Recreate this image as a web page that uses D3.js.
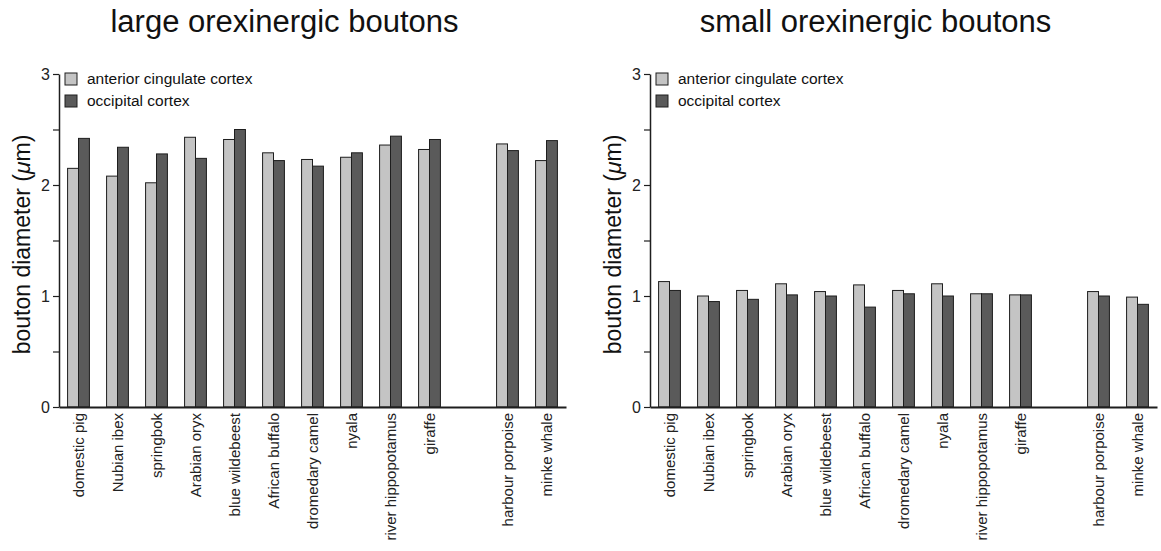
<!DOCTYPE html>
<html>
<head>
<meta charset="utf-8">
<script src="https://cdn.jsdelivr.net/npm/d3@7/dist/d3.min.js"></script>
<style>
  html, body { margin: 0; padding: 0; background: #fff; }
  svg { display: block; font-family: "Liberation Sans", Arial, Helvetica, sans-serif; }
</style>
</head>
<body>
<svg id="chart" width="1161" height="551"></svg>
<script>
// Species, in plotting order (terrestrial species first, then cetaceans)
const terrestrial = ["domestic pig", "Nubian ibex", "springbok", "Arabian oryx", "blue wildebeest",
  "African buffalo", "dromedary camel", "nyala", "river hippopotamus", "giraffe"];
const cetaceans = ["harbour porpoise", "minke whale"];
const species = terrestrial.concat(cetaceans);

// Mean bouton diameters (µm)
const largeACC = [2.15, 2.08, 2.02, 2.43, 2.41, 2.29, 2.23, 2.25, 2.36, 2.32, 2.37, 2.22];
const largeOC  = [2.42, 2.34, 2.28, 2.24, 2.50, 2.22, 2.17, 2.29, 2.44, 2.41, 2.31, 2.40];
const smallACC = [1.13, 1.00, 1.05, 1.11, 1.04, 1.10, 1.05, 1.11, 1.02, 1.01, 1.04, 0.99];
const smallOC  = [1.05, 0.95, 0.97, 1.01, 1.00, 0.90, 1.02, 1.00, 1.02, 1.01, 1.00, 0.925];

const seriesNames = ["anterior cingulate cortex", "occipital cortex"];
const seriesColors = ["#c4c4c4", "#5a5a5a"];
const yTicks = [0, 0.5, 1, 1.5, 2, 2.5, 3];

const panels = [
  { title: "large orexinergic boutons", acc: largeACC, oc: largeOC, left: 59 },
  { title: "small orexinergic boutons", acc: smallACC, oc: smallOC, left: 650 }
];

const svg = d3.select("#chart");
const plotW = 507, plotTop = 74, plotBottom = 407;

// an empty slot separates the cetaceans from the terrestrial species
const slots = terrestrial.concat(["(gap)"], cetaceans);

const y = d3.scaleLinear().domain([0, 3]).range([plotBottom, plotTop]);

panels.forEach(p => {
  const g = svg.append("g");
  const x = d3.scaleBand().domain(slots).range([p.left, p.left + plotW])
    .paddingInner(0.44).paddingOuter(0.22);
  const xs = d3.scaleBand().domain([0, 1]).range([0, x.bandwidth()]);

  // title
  g.append("text")
    .attr("x", p.left + plotW / 2 - 28).attr("y", 32)
    .attr("text-anchor", "middle")
    .attr("font-size", 31).attr("fill", "#111")
    .text(p.title);

  // bars
  const rows = species.map((s, i) => ({ s, vals: [p.acc[i], p.oc[i]] }));
  const grp = g.selectAll("g.sp").data(rows).join("g")
    .attr("class", "sp")
    .attr("transform", d => `translate(${x(d.s)},0)`);
  grp.selectAll("rect").data(d => d.vals.map((v, k) => ({ v, k }))).join("rect")
    .attr("x", d => xs(d.k))
    .attr("y", d => y(d.v))
    .attr("width", xs.bandwidth())
    .attr("height", d => y(0) - y(d.v))
    .attr("fill", d => seriesColors[d.k])
    .attr("stroke", "#1e1e1e").attr("stroke-width", 1);

  // y axis
  const ya = g.append("g").attr("transform", `translate(${p.left},0)`)
    .call(d3.axisLeft(y).tickValues(yTicks)
      .tickFormat(d => Number.isInteger(d) ? d : "")
      .tickSize(6).tickSizeOuter(0).tickPadding(3));
  ya.select(".domain").attr("stroke", "#1e1e1e").attr("stroke-width", 1.5);
  ya.selectAll(".tick line").attr("stroke", "#1e1e1e").attr("stroke-width", 1.2);
  ya.selectAll(".tick text").attr("font-size", 16).attr("fill", "#222")
    .attr("font-family", "Liberation Sans, Arial, sans-serif");

  // x axis
  const xa = g.append("g").attr("transform", `translate(0,${plotBottom})`)
    .call(d3.axisBottom(x).tickValues(species).tickSize(0).tickSizeOuter(0));
  xa.select(".domain").attr("stroke", "#1e1e1e").attr("stroke-width", 2);
  xa.selectAll(".tick text")
    .attr("font-size", 15).attr("fill", "#222")
    .attr("font-family", "Liberation Sans, Arial, sans-serif")
    .attr("text-anchor", "end")
    .attr("transform", "rotate(-90)")
    .attr("x", -6).attr("y", 0).attr("dy", "0.35em");

  // y axis title
  const yt = g.append("text")
    .attr("transform", `translate(${p.left - 29},${(plotTop + plotBottom) / 2 + 4}) rotate(-90)`)
    .attr("text-anchor", "middle")
    .attr("font-size", 23).attr("fill", "#111");
  yt.append("tspan").text("bouton diameter (");
  yt.append("tspan").attr("font-style", "italic").text("\u03bc");
  yt.append("tspan").text("m)");

  // legend
  const lg = g.append("g").attr("transform", `translate(${p.left + 6},73)`);
  seriesNames.forEach((name, k) => {
    lg.append("rect").attr("x", 0).attr("y", k * 22)
      .attr("width", 12).attr("height", 12)
      .attr("fill", seriesColors[k]).attr("stroke", "#1e1e1e").attr("stroke-width", 1);
    lg.append("text").attr("x", 22).attr("y", k * 22 + 11)
      .attr("font-size", 15.5).attr("fill", "#111").text(name);
  });
});
</script>
</body>
</html>
